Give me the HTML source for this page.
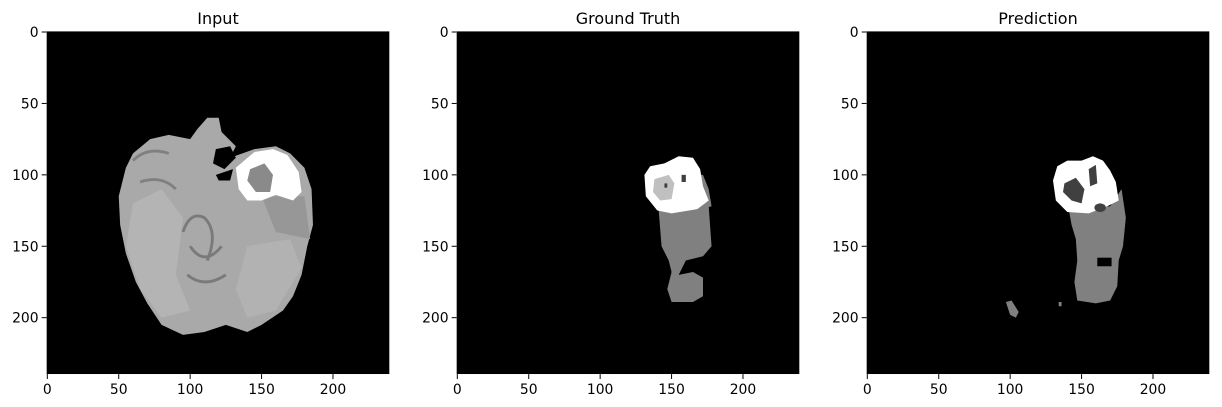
<!DOCTYPE html>
<html><head><meta charset="utf-8"><style>
body{margin:0;background:#fff;width:1222px;height:407px;overflow:hidden;font-family:"DejaVu Sans","Liberation Sans",sans-serif}
svg{position:absolute;left:0;top:0}
</style></head><body>
<svg id="fig" width="1222" height="407">
<defs>
<g id="brainInput">
<rect x="-0.5" y="-0.5" width="240" height="240" fill="#000"/>
<polygon fill="#a9a9a9" points="105,68 112,60 120,60 122,70 132,80 128,88 145,82 160,80 170,85 180,95 185,110 186,135 182,150 178,170 172,185 165,195 150,205 140,210 125,205 110,210 95,212 80,205 70,190 62,175 55,155 51,135 50,115 55,95 60,85 72,75 85,72 100,75"/>
<polygon fill="#b4b4b4" points="60,120 80,110 95,130 90,170 100,195 80,200 65,180 55,150"/>
<polygon fill="#b2b2b2" points="140,150 170,145 178,165 160,195 140,200 132,180"/>
<polygon fill="#979797" points="150,115 180,115 184,145 160,140"/>
<polygon fill="#000" points="118,82 128,80 132,88 124,96 116,92"/>
<polygon fill="#000" points="118,100 130,96 128,104 120,104"/>
<polygon fill="#fff" points="132,95 145,84 158,82 168,86 176,98 178,112 172,118 160,114 150,118 140,118 134,110"/>
<polygon fill="#8a8a8a" points="142,96 152,92 158,100 156,112 146,112 140,104"/>
<path d="M95 140 Q100 125 110 130 Q120 140 112 160 M100 150 Q110 165 122 150 M98 170 Q110 180 125 170" stroke="#7a7a7a" stroke-width="2" fill="none"/>
<path d="M60 90 Q70 80 85 85 M65 105 Q80 100 90 110" stroke="#808080" stroke-width="2" fill="none"/>
</g>
<g id="brainGT">
<rect x="-0.5" y="-0.5" width="240" height="240" fill="#000"/>
<polygon fill="#808080" points="141,125 176,122 178,150 172,157 160,160 155,170 165,168 172,172 172,185 165,189 150,189 147,180 150,168 148,160 143,150"/>
<polygon fill="#808080" points="165,100 172,100 176,110 178,122 168,125"/>
<polygon fill="#fff" points="131,100 135,94 145,92 155,87 165,88 170,96 172,108 176,118 168,124 150,127 140,125 132,115"/>
<polygon fill="#c0c0c0" points="138,103 148,100 152,106 150,117 142,118 137,112"/>
<rect x="145" y="106" width="2" height="3" fill="#404040"/>
<rect x="157" y="100" width="3" height="5" fill="#404040"/>
</g>
<g id="brainPred">
<rect x="-0.5" y="-0.5" width="240" height="240" fill="#000"/>
<polygon fill="#808080" points="141,124 170,122 178,110 181,130 179,150 176,160 175,178 170,188 160,190 147,188 145,175 147,160 146,145 143,135"/>
<rect x="161" y="158" width="10" height="6" fill="#000"/>
<polygon fill="#808080" points="97,189 101,188 106,196 104,200 100,198"/>
<rect x="134" y="189" width="2" height="3" fill="#808080"/>
<polygon fill="#fff" points="130,104 133,94 140,90 150,90 158,87 165,90 170,97 174,105 176,118 168,122 155,127 140,126 132,118"/>
<polygon fill="#404040" points="138,106 146,102 152,110 150,120 143,118 137,112"/>
<polygon fill="#404040" points="155,96 160,93 161,106 156,108"/>
<ellipse cx="163" cy="123" rx="4" ry="3" fill="#404040"/>
</g>
</defs>
</svg>
<script>
const titles = ["Input", "Ground Truth", "Prediction"];
const xTicks = [0, 50, 100, 150, 200];
const yTicks = [0, 50, 100, 150, 200];
const imgSize = 240;
const lefts = [46.6, 456.6, 866.6];
const top0 = 31.3, sz = 342.8, sc = sz / imgSize;
const uses = ["#brainInput", "#brainGT", "#brainPred"];
const NS = "http://www.w3.org/2000/svg";
const fig = document.getElementById("fig");
function mk(tag, attrs, parent) { const e = document.createElementNS(NS, tag); for (const k in attrs) e.setAttribute(k, attrs[k]); parent.appendChild(e); return e; }
titles.forEach((t, i) => {
  const L = lefts[i];
  const g = mk("g", {}, fig);
  
  
  const img = mk("svg", { x: L, y: top0, width: sz, height: sz, viewBox: "-0.5 -0.5 240 240", preserveAspectRatio: "none" }, g);
  
  
  mk("use", { href: uses[i] }, img);
  const tt = mk("text", { x: L + sz / 2, y: 24, "text-anchor": "middle", "font-size": 16, fill: "#000" }, g);
  tt.textContent = t;
  
  
  const xs = v => L + (v + 0.5) * sc;
  const ys = v => top0 + (v + 0.5) * sc;
  xTicks.forEach(v => {
    const x = xs(v);
    const tk = mk("line", { x1: x, x2: x, y1: top0 + sz, y2: top0 + sz + 4.9, stroke: "#000", "stroke-width": 1 }, g);
    
    
    const lb = mk("text", { x: x, y: top0 + sz + 20, "text-anchor": "middle", "font-size": 13.9, fill: "#000" }, g);
    lb.textContent = v;
    
    
  });
  yTicks.forEach(v => {
    const y = ys(v);
    const tk = mk("line", { x1: L - 4.9, x2: L, y1: y, y2: y, stroke: "#000", "stroke-width": 1 }, g);
    
    
    const lb = mk("text", { x: L - 8, y: y + 5, "text-anchor": "end", "font-size": 13.9, fill: "#000" }, g);
    lb.textContent = v;
    
    
  });
});
</script>
</body></html>
